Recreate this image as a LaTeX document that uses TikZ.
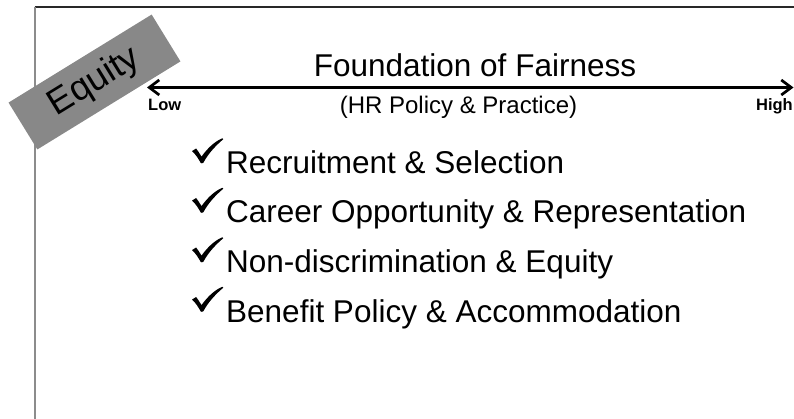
\documentclass[tikz,border=0pt]{standalone}
\usepackage{fontspec}
\setmainfont{Liberation Sans}
\usetikzlibrary{arrows.meta}
\definecolor{boxgray}{RGB}{136,136,136}
\definecolor{framegray}{RGB}{140,140,140}
\definecolor{topline}{RGB}{40,40,40}
\tikzset{
  listitem/.style={anchor=base west, inner sep=0pt, font=\fontsize{31.5}{36}\selectfont},
  endlabel/.style={inner sep=0pt, font=\bfseries\fontsize{16.5}{20}\selectfont},
  scalearrow/.style={line width=2.7pt, {Straight Barb[length=10pt,width=15pt]}-{Straight Barb[length=10pt,width=15pt]}},
  equitybox/.style={fill=boxgray, minimum width=168pt, minimum height=55pt, inner sep=0pt, rotate=31.6, font=\fontsize{36}{40}\selectfont},
  pics/checkmark/.style={code={
    \fill (0.3,12.8) -- (4.4,10.2) .. controls (6.5,13) .. (9.8,18.3)
      .. controls (16.5,9) and (23.5,3) .. (30.6,0) -- (31.6,0.9)
      .. controls (22.5,8.5) and (15.5,17) .. (11.8,24.3)
      .. controls (11,25.2) and (9.5,25.3) .. (9,24.6)
      .. controls (6.5,20) and (3.5,15.5) .. cycle;
  }},
}
\begin{document}
\begin{tikzpicture}[x=1pt,y=-1pt]
\useasboundingbox (0,0) rectangle (794,419);
% frame
\coordinate (corner) at (34.5,7);
\coordinate (topend) at (794,7);
\coordinate (bottomend) at (34.5,419);
\draw[topline, line width=1.3pt] (corner) -- (topend);
\draw[framegray, line width=2pt] (corner) -- (bottomend);
% title and scale
\node[anchor=base, inner sep=0pt, font=\fontsize{31.5}{36}\selectfont] (title) at (475,76.5) {Foundation of Fairness};
\coordinate (lowend) at (147,87.5);
\coordinate (highend) at (793.5,87.5);
\draw[scalearrow] (lowend) -- (highend);
\node[anchor=base, inner sep=0pt, font=\fontsize{24}{28}\selectfont] (subtitle) at (458.5,114) {(HR Policy \& Practice)};
\node[endlabel, anchor=base west] (low) at (148,110.7) {Low};
\node[endlabel, anchor=base east] (high) at (793,111) {High};
% equity tag
\node[equitybox] (equity) at (94.5,82) {Equity};
% list
\pic (c1) at (191.7,138.3) {checkmark};
\node[listitem] (t1) at (226,173.5) {Recruitment \& Selection};
\pic (c2) at (191.7,187.8) {checkmark};
\node[listitem] (t2) at (226,223) {Career Opportunity \& Representation};
\pic (c3) at (191.7,237.3) {checkmark};
\node[listitem] (t3) at (226,272.5) {Non-discrimination \& Equity};
\pic (c4) at (191.7,286.8) {checkmark};
\node[listitem] (t4) at (226,322) {Benefit Policy \& Accommodation};
\end{tikzpicture}
\end{document}
